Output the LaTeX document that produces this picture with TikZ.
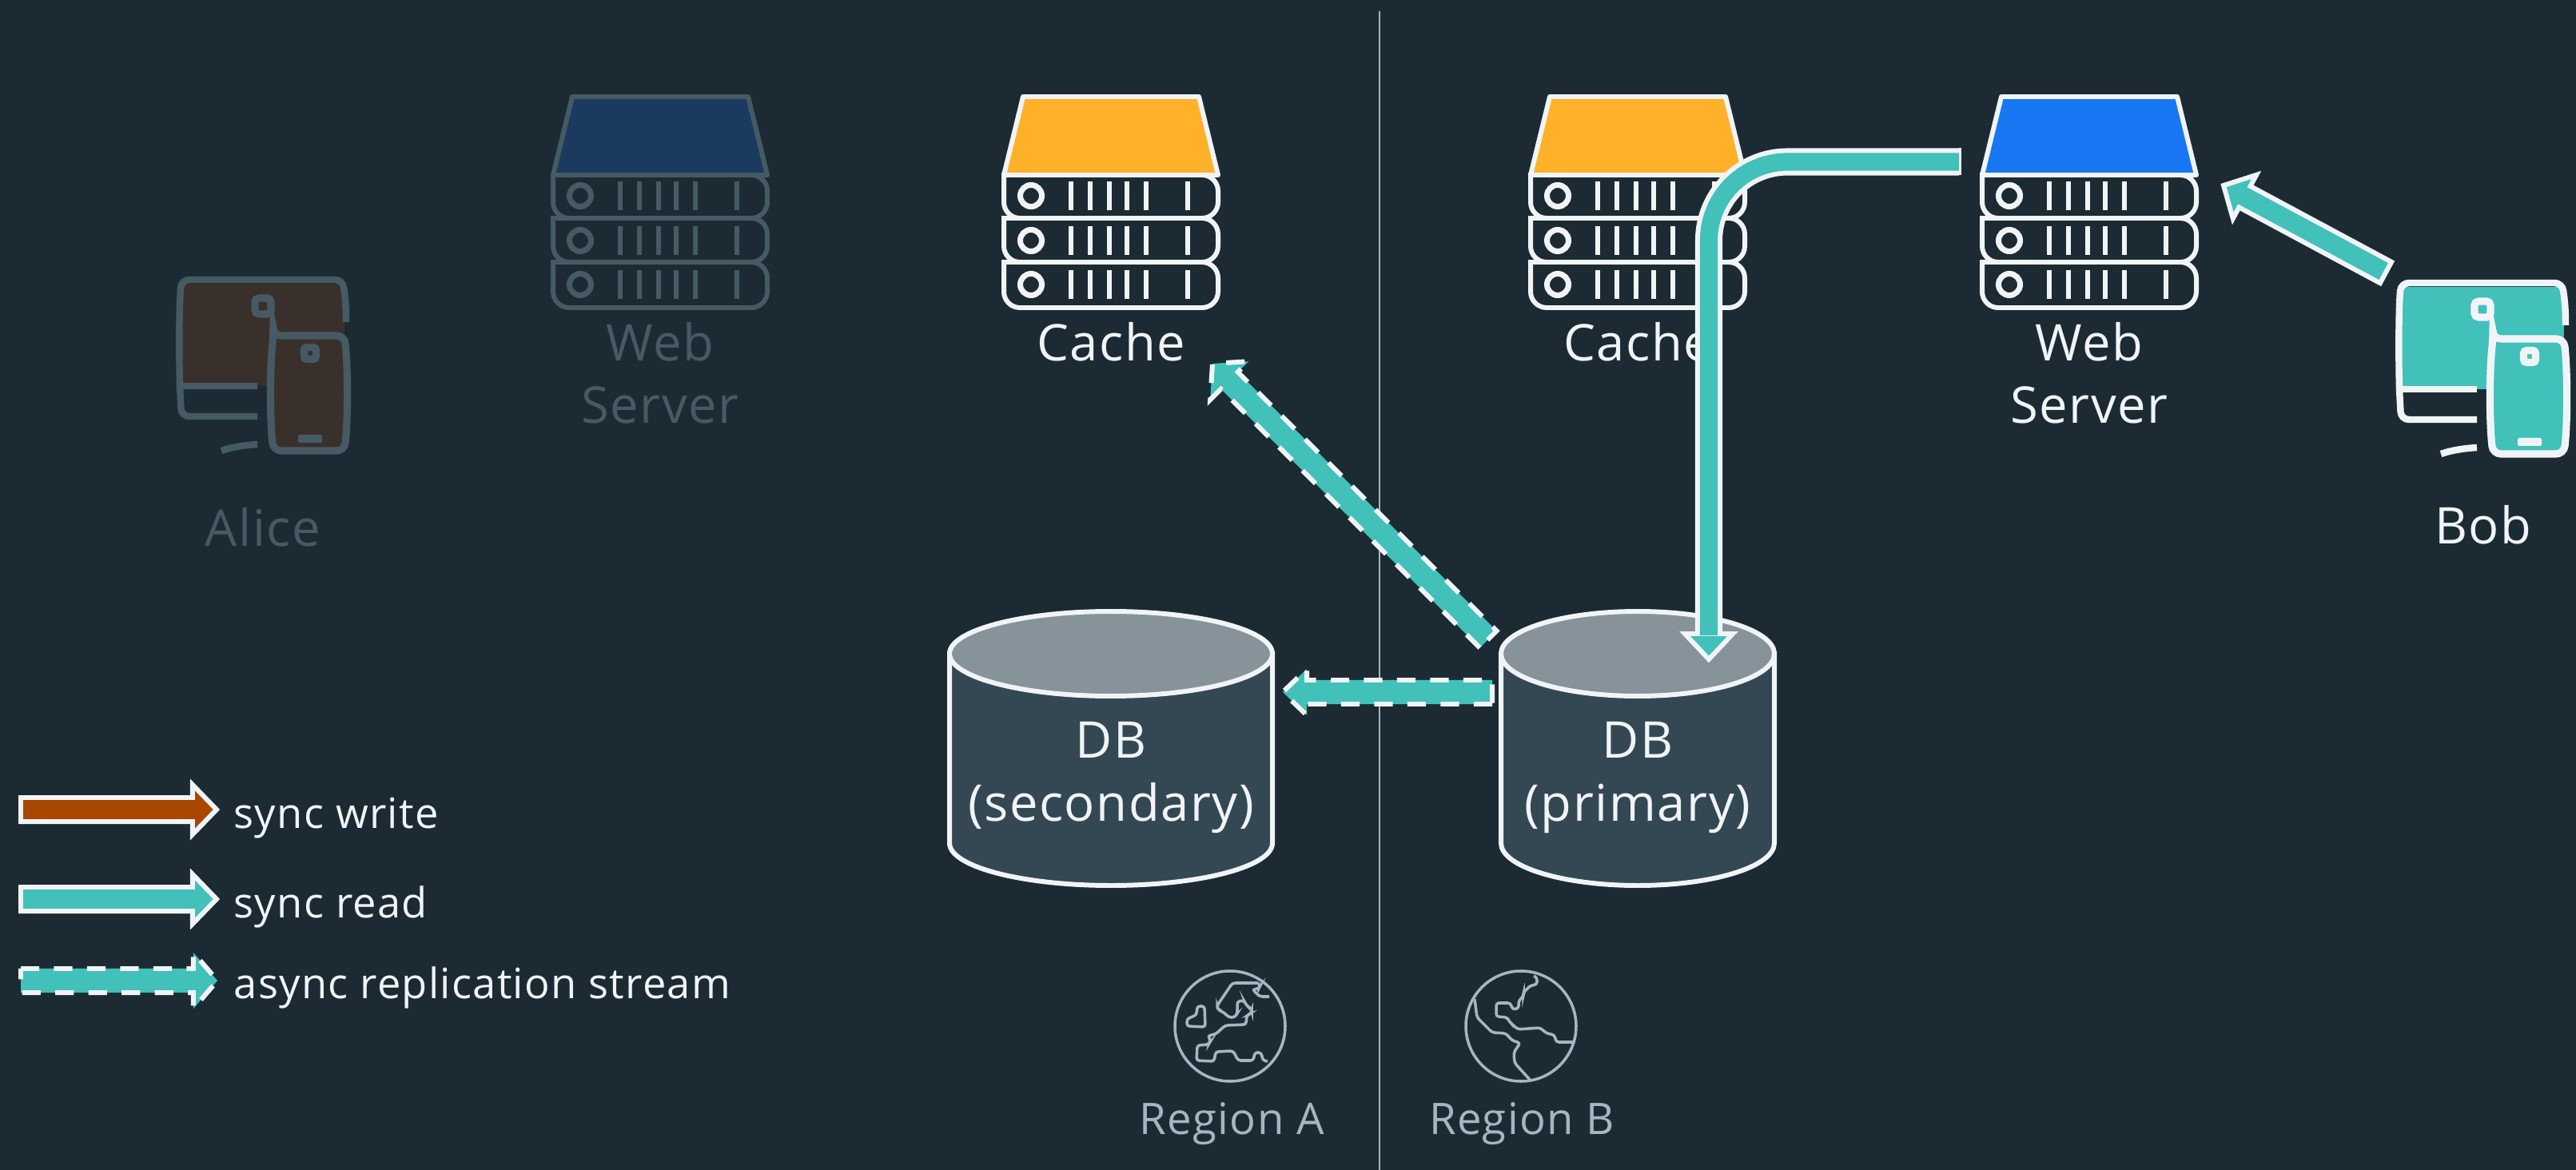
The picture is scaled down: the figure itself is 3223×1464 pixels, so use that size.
\documentclass[tikz,border=0pt]{standalone}
\usepackage{fontspec}
\setmainfont{Open Sans}[LetterSpace=2.5]
\usetikzlibrary{calc}
\definecolor{bgdark}{HTML}{1C2B33}
\definecolor{inkwhite}{HTML}{F1F4F7}
\definecolor{inkdim}{HTML}{465A64}
\definecolor{inkgrey}{HTML}{A7B5C1}
\definecolor{cachefill}{HTML}{FFB12A}
\definecolor{webfill}{HTML}{1877F2}
\definecolor{webdim}{HTML}{1B3A5F}
\definecolor{dbbody}{HTML}{344854}
\definecolor{dbtop}{HTML}{87939B}
\definecolor{readfill}{HTML}{42C0BA}
\definecolor{writefill}{HTML}{A94600}
\definecolor{alicefill}{HTML}{3A302B}
\tikzset{
  lbl/.style={anchor=base, align=center, inner sep=0pt, text=inkwhite, font=\fontsize{18}{22.2}\selectfont},
  lbldim/.style={lbl, text=inkdim},
  lblsmall/.style={anchor=base, inner sep=0pt, text=inkgrey, font=\fontsize{15.5}{18}\selectfont},
  lbllegend/.style={anchor=base west, inner sep=0pt, text=inkwhite, font=\fontsize{14.9}{18}\selectfont},
  syncarrow/.style={draw=inkwhite, line width=1.7pt, miter limit=10, fill=#1},
  asyncarrow/.style={syncarrow=#1, dash pattern=on 6.6pt off 5.2pt},
  pics/serverstack/.style 2 args={code={
    \draw[#1, line width=1.7pt, line join=round, fill=#2] (-110,-98) -- (110,-98) -- (134,0) -- (-134,0) -- cycle;
    \foreach \rowtop/\rowbot/\rowmid in {109/166/137, 54/109/82, 0/54/26} {
      \draw[#1, line width=1.7pt, fill=bgdark] (-134,\rowtop) [rounded corners=5.7pt] -- (-134,\rowbot) -- (134,\rowbot) -- (134,\rowtop) [sharp corners] -- cycle;
      \draw[#1, line width=2pt] (-100,\rowmid) circle[radius=13.5];
      \foreach \barx in {-50,-26,-2,20,44,96}
        \draw[#1, line width=1.7pt] (\barx,\rowmid-18) -- (\barx,\rowmid+18);
    }
  }},
  pics/device/.style 2 args={code={
    \fill[#2] (-102,-28) rectangle (102,100);
    \draw[#1, line width=2.4pt] (104,20) .. controls (104,0) and (103,-10) .. (101,-24)
      [rounded corners=2.8pt] -- (100,-33) -- (-102,-33) [sharp corners] .. controls (-105,0) and (-105,60) .. (-104,100)
      [rounded corners=2.8pt] -- (-102,138) -- (-7,138);
    \draw[#1, line width=2.4pt] (-106,100) -- (-7,100);
    \draw[#1, line width=2.4pt] (-7,173) .. controls (-22,174) and (-38,176) .. (-52,181);
    \draw[#1, line width=2.6pt, fill=#2, rounded corners=2.8pt]
      (13,37) -- (102,37) .. controls (106.5,80) and (106.5,140) .. (102,181) -- (13,181) .. controls (8.5,140) and (8.5,80) .. (13,37) -- cycle;
    \draw[#1, line width=2.6pt, rounded corners=1.4pt] (-10,-10) rectangle (10,10);
    \draw[#1, line width=2.6pt, rounded corners=1pt] (51.5,51.5) rectangle (66.5,66.5);
    \fill[#1, rounded corners=.6pt] (44,161) rectangle (74,171);
  }},
  pics/dbcyl/.style={code={
    \draw[inkwhite, line width=1.7pt, fill=dbbody] (-#1,0) -- (-#1,237)
      arc[start angle=180, end angle=0, x radius=#1, y radius=53] -- (#1,0) -- cycle;
    \draw[inkwhite, line width=1.7pt, fill=dbtop] (0,0) ellipse[x radius=#1, y radius=53];
  }},
  pics/globea/.style={code={
    \draw[inkgrey, line width=1pt] (0,0) circle[radius=69];
    \draw[inkgrey, line width=1pt, rounded corners=1pt]
      (35,-54) -- (3,-54) -- (-16,-26) -- (-16,-21) -- (-6,-16) -- (-2,-11) -- (6,-11) -- (9,-16) -- (9,-31)
      -- (18,-32) -- (20,-26) -- (27,-22) -- (27,-16) -- (21,-14) -- (20,-2) -- (-6,-1) -- (-18,10) -- (-28,12)
      -- (-24,18) -- (-27,23) -- (-41,24) -- (-42,43) -- (-20,44) -- (-18,32) -- (4,31) -- (10,43) -- (29,43)
      -- (31,33) -- (39,33) -- (41,43) -- (47,44);
    \draw[inkgrey, line width=1pt, rounded corners=1pt]
      (35,-54) -- (38,-51) -- (36,-47) -- (28,-46) -- (37,-37) -- (49,-37);
    \draw[inkgrey, line width=1pt, rounded corners=1pt]
      (-32,-25) -- (-41,-25) -- (-42,-14) -- (-54,-9) -- (-54,0) -- (-31,1) -- cycle;
  }},
  pics/globeb/.style={code={
    \draw[inkgrey, line width=1pt] (0,0) circle[radius=69];
    \draw[inkgrey, line width=1pt, rounded corners=1pt]
      (16,-63) -- (20,-61) -- (20,-52) -- (12,-51) -- (3,-42) -- (3,-37) -- (-3,-32) -- (-3,-22) -- (-11,-21)
      -- (-13,-29) -- (-31,-29) -- (-31,-12) -- (-17,-11) -- (-15,-6) -- (-4,4) -- (24,2) -- (32,9) -- (42,11)
      -- (44,20) -- (65,20);
    \draw[inkgrey, line width=1pt, rounded corners=1pt]
      (-58,-34) -- (-55,-11) -- (-36,8) -- (-19,9) -- (-11,18) -- (-1,21) -- (-9,33) -- (-8,46) -- (12,68);
  }},
}
\def\headhalf{0.31cm}
\newcommand{\blockarrow}[3][]{
  \coordinate (neck) at ($(#3)!0.3cm!(#2)$);
  \draw[#1] ($(#2)!0.15cm!90:(#3)$) -- ($(neck)!0.15cm!90:(#3)$) -- ($(neck)!\headhalf!90:(#3)$) -- (#3)
    -- ($(neck)!\headhalf!-90:(#3)$) -- ($(neck)!0.15cm!-90:(#3)$) -- ($(#2)!0.15cm!-90:(#3)$) -- cycle;
}
\begin{document}
\begin{tikzpicture}[x=0.01cm, y=-0.01cm]
  \useasboundingbox (0,0) rectangle (3223,1464);
  \fill[bgdark] (0,0) rectangle (3223,1464);

  \coordinate (divtop) at (1726,14);
  \coordinate (divbot) at (1726,1464);
  \draw[inkgrey, line width=.6pt] (divtop) -- (divbot);

  \pic at (329,383) {device={inkdim}{alicefill}};
  \pic at (826,219) {serverstack={inkdim}{webdim}};
  \pic at (1390,219) {serverstack={inkwhite}{cachefill}};
  \pic at (2049,219) {serverstack={inkwhite}{cachefill}};
  \pic at (2614,219) {serverstack={inkwhite}{webfill}};
  \pic at (3106,387) {device={inkwhite}{readfill}};
  \pic at (1390,818) {dbcyl=202};
  \pic at (2049,818) {dbcyl=171};
  \pic at (1539,1284) {globea};
  \pic at (1903,1284) {globeb};

  \node[lbldim] (alice) at (329,684) {Alice};
  \node[lbldim] (weba) at (826,530) {Web\\Server};
  \node[lbl] (cachea) at (1390,452) {Cache};
  \node[lbl] (cacheb) at (2049,452) {Cache};
  \node[lbl] (webb) at (2614,530) {Web\\Server};
  \node[lbl] (bob) at (3107,680) {Bob};
  \node[lbl] (dba) at (1390,1027) {DB\\(secondary)};
  \node[lbl] (dbb) at (2049,1027) {DB\\(primary)};
  \node[lblsmall] (regiona) at (1541,1419) {Region A};
  \node[lblsmall] (regionb) at (1904,1419) {Region B};

  \coordinate (bobtail) at (2985,341);
  \coordinate (bobtip) at (2782,232);
  \blockarrow[syncarrow=readfill]{bobtail}{bobtip}

  \def\headhalf{0.34cm}
  \coordinate (repltail) at (1862,800);
  \coordinate (repltip) at (1517,455);
  \blockarrow[asyncarrow=readfill]{repltail}{repltip}
  \def\headhalf{0.29cm}
  \coordinate (sectail) at (1867,866);
  \coordinate (sectip) at (1605,866);
  \blockarrow[asyncarrow=readfill]{sectail}{sectip}

  \coordinate (readtail) at (2451,202.5);
  \coordinate (readneck) at (2138,795);
  \coordinate (readtip) at (2138,825);
  \draw[inkwhite, line width=9.7pt, rounded corners=28pt] (readtail) -| (readneck);
  \fill[inkwhite] ($(readtail)+(0,-17)$) rectangle ($(readtail)+(3,17)$);
  \draw[syncarrow=readfill, line join=miter] (2108,793) -- (readtip) -- (2168,793) -- cycle;
  \draw[readfill, line width=6.3pt, rounded corners=28pt] (readtail) -| (readneck);

  \def\headhalf{0.31cm}
  \coordinate (lw1) at (26,1013);
  \coordinate (lw2) at (271,1013);
  \blockarrow[syncarrow=writefill]{lw1}{lw2}
  \coordinate (lr1) at (26,1125);
  \coordinate (lr2) at (271,1125);
  \blockarrow[syncarrow=readfill]{lr1}{lr2}
  \def\headhalf{0.35cm}
  \coordinate (la1) at (26,1227);
  \coordinate (la2) at (272,1227);
  \blockarrow[asyncarrow=readfill]{la1}{la2}
  \node[lbllegend] (lwtext) at (292,1036) {sync write};
  \node[lbllegend] (lrtext) at (292,1148) {sync read};
  \node[lbllegend] (latext) at (292,1249) {async replication stream};
\end{tikzpicture}
\end{document}
